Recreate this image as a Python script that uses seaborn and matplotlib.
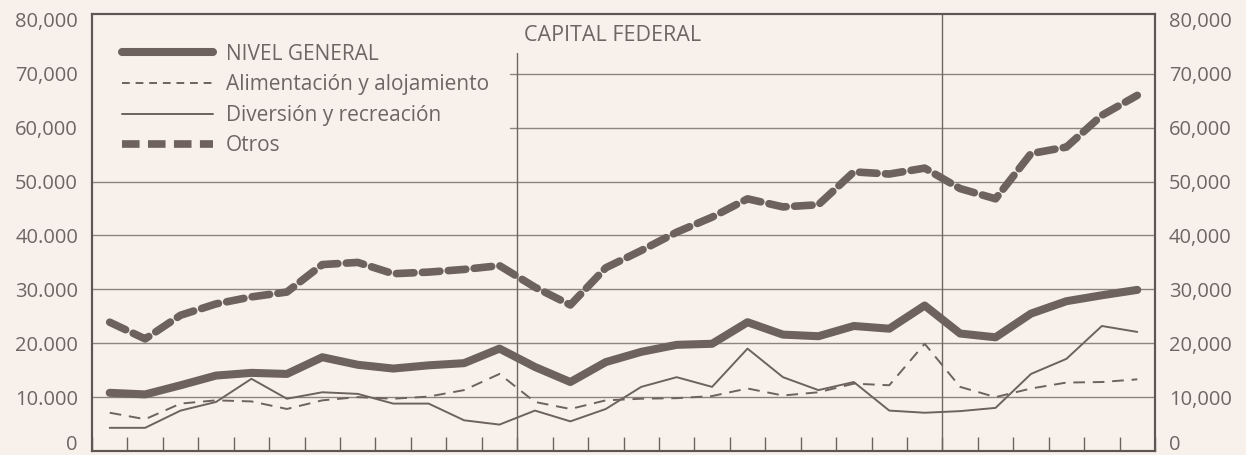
import numpy as np
import pandas as pd
import matplotlib
matplotlib.use("Agg")
import matplotlib.pyplot as plt
from matplotlib.lines import Line2D
import seaborn as sns

# values, in thousands of pesos, one point per month
months = np.arange(30) + 0.5
nivel_general = [10.8, 10.5, 12.2, 14.0, 14.5, 14.3, 17.4, 16.0, 15.3, 15.9,
                 16.3, 19.0, 15.6, 12.8, 16.5, 18.4, 19.7, 19.9, 23.9, 21.6,
                 21.3, 23.2, 22.7, 27.0, 21.8, 21.1, 25.5, 27.8, 28.9, 29.9]
alimentacion = [7.1, 5.9, 8.8, 9.4, 9.2, 7.8, 9.4, 10.0, 9.7, 10.1,
                11.3, 14.3, 9.1, 7.8, 9.4, 9.7, 9.8, 10.2, 11.6, 10.3,
                10.9, 12.5, 12.2, 19.9, 11.9, 10.0, 11.6, 12.7, 12.8, 13.3]
diversion = [4.3, 4.3, 7.5, 9.1, 13.4, 9.7, 10.9, 10.6, 8.8, 8.8,
             5.7, 4.9, 7.5, 5.5, 7.8, 11.9, 13.7, 11.9, 19.0, 13.7,
             11.3, 12.8, 7.5, 7.1, 7.4, 8.0, 14.3, 17.1, 23.2, 22.1]
otros = [23.9, 20.8, 25.2, 27.3, 28.6, 29.5, 34.6, 35.0, 32.9, 33.2,
         33.7, 34.4, 30.4, 27.1, 34.0, 37.2, 40.6, 43.4, 46.8, 45.3,
         45.7, 51.8, 51.4, 52.5, 48.7, 46.8, 55.2, 56.4, 62.3, 66.0]

series_names = ["NIVEL GENERAL", "Alimentación y alojamiento",
                "Diversión y recreación", "Otros"]
left_labels = ["", "10.000", "20.000", "30.000", "40.000", "50.000",
               "60,000", "70,000", "80,000"]
right_labels = ["", "10,000", "20,000", "30,000", "40,000", "50,000",
                "60,000", "70,000", "80,000"]
year_breaks = [12, 24]

df = pd.DataFrame({
    "mes": months,
    "NIVEL GENERAL": np.array(nivel_general) * 1000,
    "Alimentación y alojamiento": np.array(alimentacion) * 1000,
    "Diversión y recreación": np.array(diversion) * 1000,
    "Otros": np.array(otros) * 1000,
})

sns.set_theme(style="white")
plt.rcParams['font.family'] = ['Open Sans', 'DejaVu Sans']

bg = "#f8f1eb"
ink = "#6d625e"
text_c = "#6f6663"
fs = 14.5

fig = plt.figure(figsize=(12.46, 4.55), dpi=100, facecolor=bg)
ax = fig.add_axes([92 / 1246, 4 / 455, 1063 / 1246, 437 / 455])
ax.set_facecolor(bg)

# grid lines; the top two stop where the legend block sits
for v in range(10000, 80000, 10000):
    xmin = 0.393 if v >= 60000 else 0.0
    ax.axhline(v, xmin=xmin, color="#8d8480", lw=1.0, zorder=1)
ax.axvline(year_breaks[0], ymax=0.91, color="#6f6561", lw=1.0, zorder=1)
ax.axvline(year_breaks[1], color="#6f6561", lw=1.0, zorder=1)

otros_dash = (0, (2.3, 1.1))
alim_dash = (0, (6, 4))
styles = {
    "NIVEL GENERAL": dict(lw=5.8, ls="-", solid_capstyle="round"),
    "Alimentación y alojamiento": dict(lw=1.4, ls=alim_dash),
    "Diversión y recreación": dict(lw=1.4, ls="-"),
    "Otros": dict(lw=5.5, ls=otros_dash, dash_capstyle="round"),
}

for name in series_names:
    sns.lineplot(data=df, x="mes", y=name, ax=ax, color=ink, zorder=3,
                 **styles[name])

ax.set_xlim(0, 30)
ax.set_ylim(0, 81100)
ax.set_xlabel("")
ax.set_ylabel("")

ax.set_xticks(range(0, 31))
ax.set_xticklabels([])
ax.tick_params(axis="x", direction="in", length=10, width=1.0, color=ink,
               bottom=True)

yticks = list(range(0, 80001, 10000))
ax.set_yticks(yticks)
ax.set_yticklabels(left_labels)
ax.tick_params(axis="y", length=0, pad=10, labelsize=fs, labelcolor=text_c)

ax2 = ax.twinx()
ax2.set_ylim(ax.get_ylim())
ax2.set_yticks(yticks)
ax2.set_yticklabels(right_labels)
ax2.tick_params(axis="y", length=0, pad=10, labelsize=fs, labelcolor=text_c)

# the zero labels sit on the bottom edge, placed by hand so they stay inside
ytrans = ax.get_yaxis_transform()
ax.text(-0.0132, 150, "0", transform=ytrans, ha="right", va="baseline",
        fontsize=fs, color=text_c)
ax.text(1.0132, 150, "0", transform=ytrans, ha="left", va="baseline",
        fontsize=fs, color=text_c)

for a in (ax, ax2):
    for s in a.spines.values():
        s.set_visible(True)
        s.set_color("#5f5653")
        s.set_linewidth(1.5)

ax.text(0.406, 0.950, "CAPITAL FEDERAL", transform=ax.transAxes,
        fontsize=15.5, color=text_c, ha="left", va="center")

handles = [
    Line2D([], [], color=ink, lw=5.8),
    Line2D([], [], color=ink, lw=1.4, ls=(0, (4, 3))),
    Line2D([], [], color=ink, lw=1.4),
    Line2D([], [], color=ink, lw=5.5, ls=otros_dash),
]
leg = ax.legend(handles, series_names, loc="upper left",
                bbox_to_anchor=(0.028, 0.932), frameon=False,
                handlelength=4.4, handletextpad=0.6, labelspacing=0.46,
                borderaxespad=0, borderpad=0, fontsize=15)
for t in leg.get_texts():
    t.set_color(text_c)

fig.savefig("out.png", dpi=100, facecolor=bg)
